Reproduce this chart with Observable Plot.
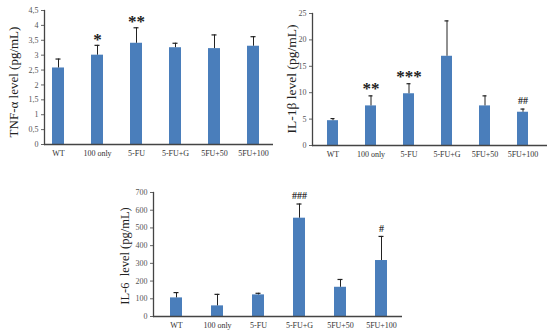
<!DOCTYPE html>
<html>
<head>
<meta charset="utf-8">
<script src="https://cdn.jsdelivr.net/npm/d3@7"></script>
<script src="https://cdn.jsdelivr.net/npm/@observablehq/plot@0.6"></script>
<style>
  html, body { margin: 0; padding: 0; background: #fff; }
  #wrap { position: relative; width: 550px; height: 335px; overflow: hidden; background: #fff; }
  .panel { position: absolute; }
  .ytitle { position: absolute; font-family: "Liberation Serif", "DejaVu Serif", serif; color: #222; white-space: pre; transform: translate(-50%, -50%) rotate(-90deg); }
</style>
</head>
<body>
<div id="wrap"></div>
<script>
const groups = ["WT", "100 only", "5-FU", "5-FU+G", "5FU+50", "5FU+100"];

const tnfValues = [2.57, 3.0, 3.4, 3.25, 3.22, 3.3];
const tnfErrors = [0.3, 0.33, 0.52, 0.15, 0.46, 0.32];
const tnfMarks = ["", "*", "**", "", "", ""];
const tnfTicks = [0, 0.5, 1, 1.5, 2, 2.5, 3, 3.5, 4, 4.5];

const il1Values = [4.7, 7.5, 9.8, 16.9, 7.5, 6.3];
const il1Errors = [0.4, 1.9, 1.9, 6.7, 1.9, 0.6];
const il1Marks = ["", "**", "***", "", "", "##"];
const il1Ticks = [0, 5, 10, 15, 20, 25];

const il6Values = [105, 60, 122, 555, 165, 316];
const il6Errors = [30, 65, 9, 80, 44, 136];
const il6Marks = ["", "", "", "###", "", "#"];
const il6Ticks = [0, 100, 200, 300, 400, 500, 600, 700];

const BLUE = "#4a7ebb";
const SERIF = "'Liberation Serif', 'DejaVu Serif', serif";

function panel(cfg) {
  const data = groups.map((g, i) => ({
    g, v: cfg.values[i], top: cfg.values[i] + cfg.errors[i], mark: cfg.marks[i]
  }));
  const stars = data.filter(d => d.mark && d.mark.includes("*"));
  const hashes = data.filter(d => d.mark && d.mark.includes("#"));
  const chart = Plot.plot({
    width: cfg.width,
    height: cfg.height,
    marginLeft: cfg.ml,
    marginRight: cfg.mr,
    marginTop: cfg.mt,
    marginBottom: cfg.mb,
    style: { fontFamily: SERIF, background: "transparent", overflow: "visible" },
    x: { domain: groups, range: cfg.xrange, paddingInner: 0.7, paddingOuter: 0.35, label: null },
    y: { domain: cfg.ydomain, label: null },
    marks: [
      Plot.barY(data, { x: "g", y: "v", fill: BLUE }),
      Plot.ruleX(data, { x: "g", y1: "v", y2: "top", stroke: "#222", strokeWidth: 1 }),
      Plot.tickY(data, { x: "g", y: "top", stroke: "#222", strokeWidth: 1.2, insetLeft: 3.5, insetRight: 3.5 }),
      Plot.text(stars, { x: "g", y: "top", text: "mark", fontSize: 17, fontWeight: "bold", fill: "#222", dy: cfg.starDy, lineAnchor: "middle" }),
      Plot.text(hashes, { x: "g", y: "top", text: "mark", fontSize: 10, fontWeight: "bold", fill: "#333", dy: -8, lineAnchor: "middle" }),
      Plot.axisY({ ticks: cfg.ticks, tickFormat: cfg.fmt, tickSize: 3, tickPadding: 3, fontSize: 8, color: "#555", stroke: "#666" }),
      Plot.axisX({ tickSize: 0, tickPadding: 6, fontSize: 8, color: "#333" }),
      Plot.ruleY([0], { stroke: "#444", strokeWidth: 1.3 }),
      Plot.frame({ anchor: "left", stroke: "#444", strokeWidth: 1.3 })
    ]
  });
  chart.classList.add("panel");
  chart.style.left = cfg.left + "px";
  chart.style.top = cfg.top + "px";
  return chart;
}

const wrap = document.getElementById("wrap");
const commaFmt = d => String(d).replace(".", ",");

wrap.appendChild(panel({
  values: tnfValues, errors: tnfErrors, marks: tnfMarks, ticks: tnfTicks, fmt: commaFmt,
  ydomain: [0, 4.5], width: 280, height: 165, left: 0, top: 0,
  ml: 44, mr: 7, mt: 10, mb: 21, xrange: [37.3, 273.7], starDy: -6
}));
wrap.appendChild(panel({
  values: il1Values, errors: il1Errors, marks: il1Marks, ticks: il1Ticks, fmt: d => String(d),
  ydomain: [0, 25], width: 270, height: 165, left: 280, top: 0,
  ml: 32, mr: 3, mt: 13, mb: 20, xrange: [31.6, 264.4], starDy: -7
}));
wrap.appendChild(panel({
  values: il6Values, errors: il6Errors, marks: il6Marks, ticks: il6Ticks, fmt: d => String(d),
  ydomain: [0, 700], width: 310, height: 165, left: 100, top: 170,
  ml: 53, mr: 8, mt: 22, mb: 19, xrange: [54.3, 302.7], starDy: -7
}));

function ytitle(text, x, y, size) {
  const d = document.createElement("div");
  d.className = "ytitle";
  d.textContent = text;
  d.style.left = x + "px";
  d.style.top = y + "px";
  d.style.fontSize = size + "px";
  wrap.appendChild(d);
}
ytitle("TNF-α level (pg/mL)", 14, 82, 13);
ytitle("IL-1β level (pg/mL)", 292, 79, 13.5);
ytitle("IL-6  level (pg/mL)", 125, 256, 12.5);
</script>
</body>
</html>
